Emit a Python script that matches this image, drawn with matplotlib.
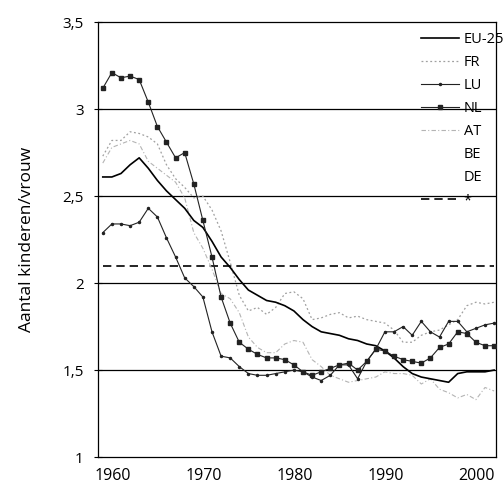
import numpy as np
import matplotlib
matplotlib.use('Agg')
import matplotlib.pyplot as plt
from matplotlib.transforms import ScaledTranslation

plt.rcParams['font.family'] = ['Open Sans', 'DejaVu Sans']

years = np.arange(1960, 2004)

eu25 = [2.61, 2.61, 2.63, 2.68, 2.72, 2.66, 2.59, 2.53, 2.48, 2.43,
        2.36, 2.32, 2.24, 2.15, 2.09, 2.02, 1.96, 1.93, 1.90, 1.89,
        1.87, 1.84, 1.79, 1.75, 1.72, 1.71, 1.70, 1.68, 1.67, 1.65,
        1.64, 1.61, 1.57, 1.52, 1.48, 1.46, 1.45, 1.44, 1.43, 1.48,
        1.49, 1.49, 1.49, 1.50]
fr = [2.73, 2.82, 2.82, 2.87, 2.86, 2.84, 2.80, 2.68, 2.60, 2.55,
      2.49, 2.50, 2.42, 2.30, 2.12, 1.93, 1.84, 1.86, 1.82, 1.86,
      1.94, 1.95, 1.91, 1.79, 1.80, 1.82, 1.83, 1.80, 1.81, 1.79,
      1.78, 1.77, 1.73, 1.66, 1.66, 1.70, 1.72, 1.73, 1.76, 1.79,
      1.87, 1.89, 1.88, 1.89]
lu = [2.29, 2.34, 2.34, 2.33, 2.35, 2.43, 2.38, 2.26, 2.15, 2.03,
      1.98, 1.92, 1.72, 1.58, 1.57, 1.52, 1.48, 1.47, 1.47, 1.48,
      1.49, 1.50, 1.49, 1.46, 1.44, 1.47, 1.53, 1.53, 1.45, 1.55,
      1.62, 1.72, 1.72, 1.75, 1.70, 1.78, 1.72, 1.69, 1.78, 1.78,
      1.72, 1.74, 1.76, 1.77]
nl = [3.12, 3.21, 3.18, 3.19, 3.17, 3.04, 2.90, 2.81, 2.72, 2.75,
      2.57, 2.36, 2.15, 1.92, 1.77, 1.66, 1.62, 1.59, 1.57, 1.57,
      1.56, 1.53, 1.49, 1.47, 1.49, 1.51, 1.53, 1.54, 1.50, 1.55,
      1.62, 1.61, 1.58, 1.56, 1.55, 1.54, 1.57, 1.63, 1.65, 1.72,
      1.71, 1.66, 1.64, 1.64]
at = [2.69, 2.78, 2.80, 2.82, 2.80, 2.70, 2.66, 2.62, 2.58, 2.49,
      2.29, 2.20, 2.08, 1.94, 1.91, 1.83, 1.69, 1.63, 1.60, 1.60,
      1.65, 1.67, 1.66, 1.56, 1.52, 1.47, 1.45, 1.43, 1.44, 1.45,
      1.46, 1.49, 1.48, 1.48, 1.47, 1.42, 1.45, 1.39, 1.37, 1.34,
      1.36, 1.33, 1.40, 1.38]
replacement = [2.1] * len(years)

y_ticks = [1, 1.5, 2, 2.5, 3, 3.5]
y_labels = ['1', '1,5', '2', '2,5', '3', '3,5']
x_ticks = [1960, 1970, 1980, 1990, 2000]

fig = plt.figure(figsize=(5.04, 4.92), dpi=100)
ax = fig.add_axes([0.194, 0.071, 0.790, 0.884])

for v in [1.5, 2, 2.5, 3]:
    ax.axhline(v, color='black', lw=0.9, zorder=1)

ax.plot(years, eu25, color='black', lw=1.2, label='EU-25', zorder=4)
ax.plot(years, fr, color='#a0a0a0', lw=0.9, ls=(0, (1.5, 2)), label='FR', zorder=3)
ax.plot(years, lu, color='#222222', lw=0.8, marker='.', ms=3, label='LU', zorder=4)
ax.plot(years, nl, color='#222222', lw=0.8, marker='s', ms=2.2, label='NL', zorder=4)
ax.plot(years, at, color='#b4b4b4', lw=0.8, ls=(0, (4, 2, 1, 2)), label='AT', zorder=3)
ax.plot([], [], color='none', label='BE')
ax.plot([], [], color='none', label='DE')
ax.plot(years, replacement, color='black', lw=1.2, ls=(0, (5, 3)), label='*', zorder=2)

ax.set_xlim(1959.45, 2003.2)
ax.set_ylim(1, 3.5)
ax.set_yticks(y_ticks)
ax.set_yticklabels(y_labels)
ax.set_xticks(x_ticks)
ax.tick_params(axis='y', direction='inout', length=6, width=0.8, labelsize=11, pad=7)
ax.tick_params(axis='x', length=0, labelsize=11.5, pad=8)
for lab in ax.get_xticklabels():
    lab.set_transform(lab.get_transform() + ScaledTranslation(0.1, 0, fig.dpi_scale_trans))
for sp in ax.spines.values():
    sp.set_linewidth(0.9)

ax.set_ylabel('Aantal kinderen/vrouw', fontsize=12.5, labelpad=20)

ax.legend(loc='upper right', bbox_to_anchor=(1.0, 1 - 32 / 492), bbox_transform=fig.transFigure,
          frameon=False, fontsize=10.5, handlelength=2.6, handletextpad=0.3,
          labelspacing=0.55, borderpad=0, borderaxespad=0)

plt.savefig('out.png', dpi=100)
